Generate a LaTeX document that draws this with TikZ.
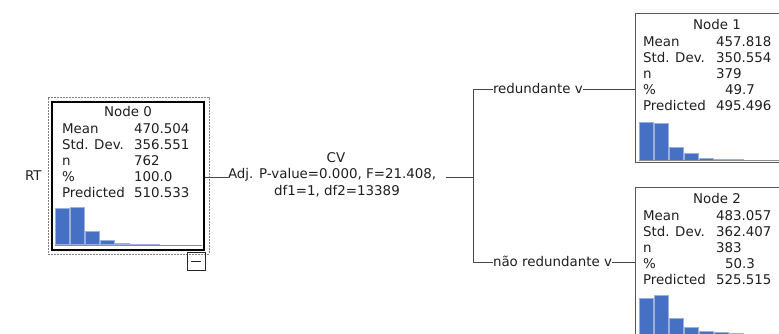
\documentclass[tikz,border=0pt]{standalone}
\usepackage{fontspec}
\setmainfont{DejaVu Sans}
\definecolor{barblue}{RGB}{70,112,196}
\definecolor{inkgray}{RGB}{70,70,70}
\begin{document}
\begin{tikzpicture}[x=1pt,y=-1pt,
  font=\fontsize{13.4}{16}\selectfont,
  txt/.style={inner sep=0pt, outer sep=0pt, text=black!88},
  lbl/.style={txt, anchor=base west},
  ttl/.style={txt, anchor=base},
  conn/.style={draw=inkgray, line width=0.9pt},
  rootbox/.style={draw=black, line width=2pt, inner sep=0pt, minimum width=152pt, minimum height=148pt},
  dotbox/.style={draw=black!50, line width=1pt, dash pattern=on 2pt off 1pt, inner sep=0pt},
  leafbox/.style={draw=black!65, line width=1pt, inner sep=0pt},
  togglebox/.style={draw=black!85, line width=0.8pt, inner sep=0pt, minimum width=18pt, minimum height=18pt},
  bar/.style={fill=barblue, draw=barblue!55!white, line width=0.4pt},
  axisline/.style={draw=black!45, line width=1.3pt}
]
\useasboundingbox (0,0) rectangle (779,333);
\clip (0,0) rectangle (779,333);

% ---------- root node ----------
\node[dotbox, minimum width=161pt, minimum height=157pt] (n0frame) at (128.5,175.5) {};
\node[rootbox] (n0) at (128,176) {};
\node[togglebox] (tog) at (196,261) {};
\draw[line width=1pt, black!85] ([xshift=-5pt]tog.center) -- ([xshift=5pt]tog.center);

\node[ttl] (n0title) at (128,116.5) {Node 0};
\node[lbl] (n0k1) at (62,133.5) {Mean};
\node[lbl] (n0k2) at (62,149.5) {Std. Dev.};
\node[lbl] (n0k3) at (62,165.5) {n};
\node[lbl] (n0k4) at (62,181.5) {\%};
\node[lbl] (n0k5) at (62,197.5) {Predicted};
\node[lbl] (n0v1) at (134,133.5) {470.504};
\node[lbl] (n0v2) at (134,149.5) {356.551};
\node[lbl] (n0v3) at (134,165.5) {762};
\node[lbl] (n0v4) at (134,181.5) {100.0};
\node[lbl] (n0v5) at (134,197.5) {510.533};

\foreach \h [count=\i from 0] in {36,37,13,4.5,1.2,0.8,0.5}
  \path[bar] (55.5+15*\i,244.5) rectangle ++(14,-\h);
\draw[axisline] (55,245.2) -- (202,245.2);

% ---------- leaf node 1 ----------
\node[leafbox, minimum width=170pt, minimum height=149pt] (n1) at (720,88) {};
\node[ttl] (n1title) at (717,29) {Node 1};
\node[lbl] (n1k1) at (643,46.5) {Mean};
\node[lbl] (n1k2) at (643,62.5) {Std. Dev.};
\node[lbl] (n1k3) at (643,78.5) {n};
\node[lbl] (n1k4) at (643,94.5) {\%};
\node[lbl] (n1k5) at (643,110.5) {Predicted};
\node[lbl] (n1v1) at (716,46.5) {457.818};
\node[lbl] (n1v2) at (716,62.5) {350.554};
\node[lbl] (n1v3) at (716,78.5) {379};
\node[lbl] (n1v4) at (725,94.5) {49.7};
\node[lbl] (n1v5) at (716,110.5) {495.496};

\foreach \h [count=\i from 0] in {38.3,37.3,13.3,6.7,2.3,1,0.6}
  \path[bar] (639.5+15*\i,160) rectangle ++(14,-\h);
\draw[axisline] (639,160.6) -- (790,160.6);

% ---------- leaf node 2 ----------
\node[leafbox, minimum width=170pt, minimum height=160pt] (n2) at (720,267) {};
\node[ttl] (n2title) at (717,203.3) {Node 2};
\node[lbl] (n2k1) at (643,220.5) {Mean};
\node[lbl] (n2k2) at (643,236.5) {Std. Dev.};
\node[lbl] (n2k3) at (643,252.5) {n};
\node[lbl] (n2k4) at (643,268.5) {\%};
\node[lbl] (n2k5) at (643,284.5) {Predicted};
\node[lbl] (n2v1) at (716,220.5) {483.057};
\node[lbl] (n2v2) at (716,236.5) {362.407};
\node[lbl] (n2v3) at (716,252.5) {383};
\node[lbl] (n2v4) at (725,268.5) {50.3};
\node[lbl] (n2v5) at (716,284.5) {525.515};

\foreach \h [count=\i from 0] in {35.5,38.8,15.5,7.3,2.8,1.5,1}
  \path[bar] (639.5+15*\i,334) rectangle ++(14,-\h);

% ---------- split and branches ----------
\node[lbl] (rt) at (25,180.5) {RT};
\node[ttl] (cv) at (336,162) {CV};
\node[lbl] (split) at (228,178.5) {Adj. P-value=0.000, F=21.408,};
\node[ttl] (dfs) at (337,195) {df1=1, df2=13389};

\coordinate (fork) at (473,177);
\coordinate (t1) at (473,89);
\coordinate (t2) at (473,262);

\node[lbl] (e1) at (493,93) {redundante v};
\node[lbl] (e2) at (493,266) {não redundante v};

\draw[conn] (n0.east |- fork) -- (split.west |- fork);
\draw[conn] ([xshift=10pt]split.east |- fork) -- (fork);
\draw[conn] (e1.west |- t1) -- (t1) -- (t2) -- (e2.west |- t2);
\draw[conn] (e1.east |- t1) -- (n1.west |- t1);
\draw[conn] (e2.east |- t2) -- (n2.west |- t2);
\end{tikzpicture}
\end{document}
